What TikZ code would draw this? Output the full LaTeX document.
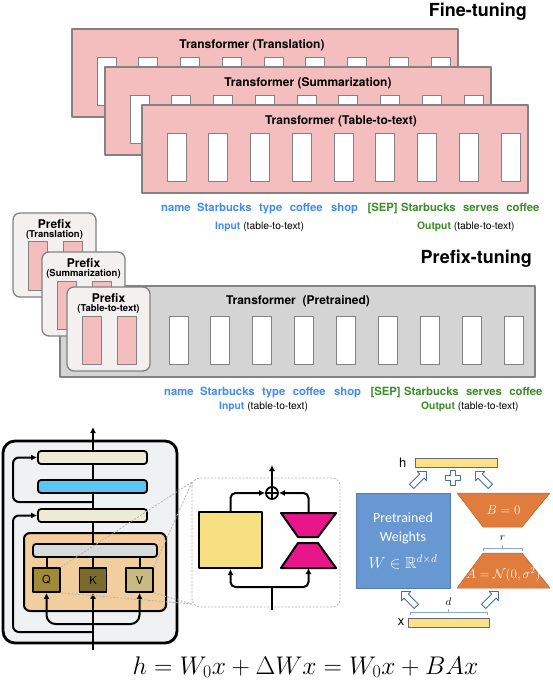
\RequirePackage{fix-cm}
\documentclass[tikz,border=0pt]{standalone}
\usepackage{amsmath,amssymb}
\usepackage[no-math]{fontspec}
\setmainfont{TeX Gyre Heros}
\newfontfamily\calibrifont{Carlito}
\usetikzlibrary{arrows.meta,calc,positioning,shapes.arrows}
\definecolor{ftpink}{RGB}{244,190,190}
\definecolor{boxgray}{RGB}{130,130,130}
\definecolor{ptgray}{RGB}{212,212,212}
\definecolor{prefixbg}{RGB}{243,240,239}
\definecolor{tokblue}{RGB}{66,140,235}
\definecolor{tokgreen}{RGB}{60,140,40}
\definecolor{blockbg}{RGB}{240,241,243}
\definecolor{normcream}{RGB}{238,235,213}
\definecolor{ffnblue}{RGB}{92,198,242}
\definecolor{attnorange}{RGB}{242,206,158}
\definecolor{attngray}{RGB}{216,219,220}
\definecolor{qgold}{RGB}{160,138,52}
\definecolor{kgold}{RGB}{122,106,44}
\definecolor{vgold}{RGB}{200,186,128}
\definecolor{wyellow}{RGB}{246,224,130}
\definecolor{lowmagenta}{RGB}{232,22,138}
\definecolor{lorablue}{RGB}{104,152,210}
\definecolor{loraorange}{RGB}{224,125,60}
\definecolor{barfill}{RGB}{255,224,138}
\definecolor{hollowblue}{RGB}{70,110,170}
\definecolor{bracecol}{RGB}{140,170,220}

\begin{document}
\begin{tikzpicture}[x=1pt, y=-1pt, >=Latex, line join=round,
  pinkbox/.style={draw=boxgray, fill=ftpink, line width=1.3pt},
  slot/.style={draw=boxgray, fill=white, line width=1pt},
  pinkslot/.style={draw=boxgray, fill=ftpink, line width=1pt},
  boxtitle/.style={font=\fontsize{12}{14}\selectfont\bfseries, inner sep=0pt},
  bigtitle/.style={font=\fontsize{18}{20}\selectfont\bfseries, inner sep=0pt},
  word/.style={font=\fontsize{11.3}{13}\selectfont\bfseries, inner sep=0pt},
  tasklab/.style={font=\fontsize{10.3}{12}\selectfont, inner sep=0pt},
  bar/.style={draw, line width=1.8pt, rounded corners=3pt, minimum width=109pt,
    minimum height=13pt, inner sep=0pt},
  qkv/.style={draw, line width=1.8pt, minimum width=27pt, minimum height=24pt,
    inner sep=0pt, font=\fontsize{11}{13}\selectfont},
  wire/.style={line width=2pt},
  flow/.style={line width=2pt, -{Latex[length=6pt,width=6pt]}},
  zoomline/.style={draw=gray!60, line width=0.8pt, dash pattern=on 2pt off 1.5pt},
  hollow/.style={single arrow, draw=hollowblue, fill=white, line width=0.9pt,
    minimum height=21pt, inner sep=2.5pt, single arrow head extend=3.5pt},
  lorafont/.style={text=white, font=\calibrifont\fontsize{14}{19}\selectfont}]

\useasboundingbox (0,0) rectangle (552,684);

% ===== Fine-tuning: one full transformer per task =====
\node[bigtitle, anchor=base east] (fttitle) at (527,17) {Fine-tuning};

\foreach \bx/\by/\task/\tx/\id in {72/29/Translation/180/a,
    105/67/Summarization/203/b, 142/105/Table-to-text/199/c} {
  \draw[pinkbox] (\bx,\by) rectangle ++(386,88);
  \foreach \i in {0,...,8}
    \draw[slot] ({\bx+25+41.75*\i},{\by+29}) rectangle ++(19,48);
  \node[boxtitle] (ft\id) at ({\bx+\tx},{\by+16}) {Transformer (\task)};
}

% tokens under the fine-tuned model
\node[word, text=tokblue, anchor=base west] (wa1) at (161,212) {name};
\node[word, text=tokblue, base right=6pt of wa1] (wa2) {Starbucks};
\node[word, text=tokblue, base right=7pt of wa2] (wa3) {type};
\node[word, text=tokblue, base right=7pt of wa3] (wa4) {coffee};
\node[word, text=tokblue, base right=8pt of wa4] (wa5) {shop};
\node[word, text=tokgreen, base right=9pt of wa5] (wa6) {[SEP]};
\node[word, text=tokgreen, base right=3pt of wa6] (wa7) {Starbucks};
\node[word, text=tokgreen, base right=7pt of wa7] (wa8) {serves};
\node[word, text=tokgreen, base right=7pt of wa8] (wa9) {coffee};
\node[tasklab, anchor=base west] (ina) at (215,230)
  {\textcolor{tokblue}{\bfseries Input} (table-to-text)};
\node[tasklab, anchor=base west] (outa) at (417,230)
  {\textcolor{tokgreen}{\bfseries Output} (table-to-text)};

% ===== Prefix-tuning: one frozen transformer, one prefix per task =====
\node[bigtitle, anchor=base east] (pttitle) at (532,263) {Prefix-tuning};

\draw[draw=boxgray, fill=ptgray, line width=1.3pt] (60,286) rectangle (535,377);
\node[boxtitle] (ptmodel) at (298,301) {Transformer\ \ (Pretrained)};
\foreach \i in {0,...,8}
  \draw[slot] ({169+41.9*\i},316) rectangle ++(19,48);

\foreach \bx/\by/\task/\id in {13/213/Translation/a,
    42/252/Summarization/b, 67/287/Table-to-text/c} {
  \draw[draw=boxgray, fill=prefixbg, line width=1.3pt, rounded corners=7pt]
    (\bx,\by) rectangle ++(83,84);
  \node[boxtitle] (pfx\id) at ({\bx+41.5},{\by+11}) {Prefix};
  \node[boxtitle, font=\fontsize{9.5}{11}\selectfont\bfseries] (pfxtask\id)
    at ({\bx+41.5},{\by+21.5}) {(\task)};
  \draw[pinkslot] ({\bx+15},{\by+29}) rectangle ++(19,48);
  \draw[pinkslot] ({\bx+50},{\by+29}) rectangle ++(19,48);
}

% tokens under the frozen model
\node[word, text=tokblue, anchor=base west] (wb1) at (164,395) {name};
\node[word, text=tokblue, base right=6pt of wb1] (wb2) {Starbucks};
\node[word, text=tokblue, base right=7pt of wb2] (wb3) {type};
\node[word, text=tokblue, base right=7pt of wb3] (wb4) {coffee};
\node[word, text=tokblue, base right=8pt of wb4] (wb5) {shop};
\node[word, text=tokgreen, base right=9pt of wb5] (wb6) {[SEP]};
\node[word, text=tokgreen, base right=3pt of wb6] (wb7) {Starbucks};
\node[word, text=tokgreen, base right=7pt of wb7] (wb8) {serves};
\node[word, text=tokgreen, base right=7pt of wb8] (wb9) {coffee};
\node[tasklab, anchor=base west] (inb) at (219,409)
  {\textcolor{tokblue}{\bfseries Input} (table-to-text)};
\node[tasklab, anchor=base west] (outb) at (421,409)
  {\textcolor{tokgreen}{\bfseries Output} (table-to-text)};

% ===== Transformer block with attention =====
\draw[line width=2.8pt, fill=blockbg, rounded corners=12pt] (3,441) rectangle (177,643);
\node[draw, line width=2pt, fill=attnorange, rounded corners=6pt,
      minimum width=142pt, minimum height=78pt] (attn) at (95,572) {};

\node[bar, fill=normcream] (ffnorm) at (92.5,457.5) {};
\node[bar, fill=ffnblue] (ffn) at (92.5,486.5) {};
\node[bar, fill=normcream] (attnorm) at (92.5,515.5) {};
\node[bar, fill=attngray, minimum width=124pt] (attnout) at (95,550.5) {};
\node[qkv, fill=qgold] (q) at (46.5,580) {Q};
\node[qkv, fill=kgold] (k) at (93,580) {K};
\node[qkv, fill=vgold] (v) at (139.5,580) {V};

\coordinate (blockin) at (93,650);
\coordinate (blockout) at (93,427);
\coordinate (res1) at (93,502);
\coordinate (res2) at (93,632);
\coordinate (qvsplit) at (93,624);

\draw[flow] (blockin) -- (k.south);
\draw[wire] (k.north) -- (k.north |- attnout.south);
\draw[wire] (q.north) -- (q.north |- attnout.south);
\draw[wire] (v.north) -- (v.north |- attnout.south);
\draw[wire] (attnout.north -| k.north) -- (attnorm.south -| k.north);
\draw[wire] (attnorm.north -| k.north) -- (ffn.south -| k.north);
\draw[wire] (ffn.north -| k.north) -- (ffnorm.south -| k.north);
\draw[flow] (ffnorm.north -| k.north) -- (blockout);
\draw[flow, rounded corners=6pt] (res1) -- (13,502) |- (ffnorm.west);
\draw[flow, rounded corners=6pt] (res2) -- (13,632) |- (attnorm.west);
\draw[flow, rounded corners=9pt] (qvsplit) -| (q.south);
\draw[flow, rounded corners=9pt] (qvsplit) -| (v.south);

% ===== Zoom on one weight: frozen W plus low-rank update =====
\draw[zoomline, fill=white, rounded corners=8pt] (192,478) rectangle (340,607);
\coordinate (zoomtl) at (192,482);
\coordinate (zoombl) at (192,604);
\draw[zoomline] (q.north east) -- (zoomtl);
\draw[zoomline] (v.north east) -- (zoomtl);
\draw[zoomline] (q.south east) -- (zoombl);
\draw[zoomline] (v.south east) -- (zoombl);

\node[draw, line width=2pt, fill=wyellow, minimum width=63pt, minimum height=56pt]
  (wsq) at (230.5,540) {};
\draw[line width=2pt, fill=lowmagenta] (281,513) -- (336,513) -- (318,537)
  -- (298,537) -- cycle;
\draw[line width=2pt, fill=lowmagenta] (298,543) -- (318,543) -- (336,568)
  -- (281,568) -- cycle;
\coordinate (hgtop) at (308.5,513);
\coordinate (hgbot) at (308.5,568);
\node[circle, draw, line width=1.8pt, fill=white, minimum size=12pt, inner sep=0pt]
  (sum) at (272,493) {};
\draw[line width=1.3pt] (sum.north) -- (sum.south) (sum.west) -- (sum.east);

\coordinate (zoomout) at (272,465);
\coordinate (zoomin) at (272,610);
\coordinate (zoomsplit) at (272,587);
\draw[flow] (sum.north) -- (zoomout);
\draw[flow, rounded corners=5pt] (wsq.north) |- (sum.west);
\draw[flow, rounded corners=5pt] (hgtop) |- (sum.east);
\draw[wire] (zoomin) -- (zoomsplit);
\draw[flow, rounded corners=5pt] (zoomsplit) -| (wsq.south);
\draw[flow, rounded corners=5pt] (zoomsplit) -| (hgbot);

% ===== LoRA reparametrization =====
\node[draw=boxgray!80!black, fill=barfill, line width=0.8pt, minimum width=82pt,
      minimum height=9pt, inner sep=0pt] (hbar) at (456,462.5) {};
\node[inner sep=0pt, font=\fontsize{13}{15}\selectfont, left=8pt of hbar] (hlab) {h};
\node[draw=boxgray!80!black, fill=barfill, line width=0.8pt, minimum width=81pt,
      minimum height=9pt, inner sep=0pt] (xbar) at (448.5,622.5) {};
\node[inner sep=0pt, font=\fontsize{13}{15}\selectfont, left=3pt of xbar] (xlab) {x};

\node[draw=lorablue!80!black, line width=0.5pt, fill=lorablue, minimum width=94pt,
      minimum height=95pt, align=center, lorafont] (pw) at (403,540.5)
  {Pretrained\\Weights\\[8pt]{\fontsize{16}{19}\selectfont$W \in \mathbb{R}^{d\times d}$}};

\draw[draw=loraorange!80!black, line width=0.5pt, fill=loraorange]
  (457,493) -- (550,493) -- (522,527) -- (483,527) -- cycle;
\node[text=white, font=\fontsize{13}{15}\selectfont] (bmat) at (503.5,510) {$B = 0$};
\draw[draw=loraorange!80!black, line width=0.5pt, fill=loraorange]
  (483,553) -- (522,553) -- (550,588) -- (457,588) -- cycle;
\node[text=white, font=\fontsize{13}{15}\selectfont] (amat) at (503.5,575)
  {$A = \mathcal{N}(0, \sigma^2)$};

% rank and width brackets
\draw[bracecol, line width=0.8pt] (483,551) -- (483,548) -- (522,548) -- (522,551)
  (502.5,548) -- (502.5,545);
\node[inner sep=0pt, font=\fontsize{11}{13}\selectfont] (rlab) at (502.5,538) {$r$};
\draw[bracecol, line width=0.8pt] (410,615) -- (410,612) -- (487,612) -- (487,615)
  (448.5,612) -- (448.5,609);
\node[inner sep=0pt, font=\fontsize{11}{13}\selectfont] (dlab) at (448.5,602) {$d$};

% hollow arrows and plus
\node[hollow, rotate=45] (arrtl) at (418,480) {};
\node[hollow, rotate=135] (arrtr) at (484,480) {};
\node[hollow, rotate=135] (arrbl) at (410,600) {};
\node[hollow, rotate=45] (arrbr) at (490,600) {};
\begin{scope}[shift={(453,478)}]
  \draw[draw=hollowblue, fill=white, line width=0.9pt]
    (-2.5,-7.5) -- (2.5,-7.5) -- (2.5,-2.5) -- (7.5,-2.5) -- (7.5,2.5) -- (2.5,2.5)
    -- (2.5,7.5) -- (-2.5,7.5) -- (-2.5,2.5) -- (-7.5,2.5) -- (-7.5,-2.5)
    -- (-2.5,-2.5) -- cycle;
\end{scope}

% ===== Update rule =====
\node[font=\fontsize{25.5}{30}\selectfont, inner sep=0pt, anchor=base] (update)
  at (305.5,674) {$h = W_0x + \Delta W x = W_0x + BAx$};

\end{tikzpicture}
\end{document}
